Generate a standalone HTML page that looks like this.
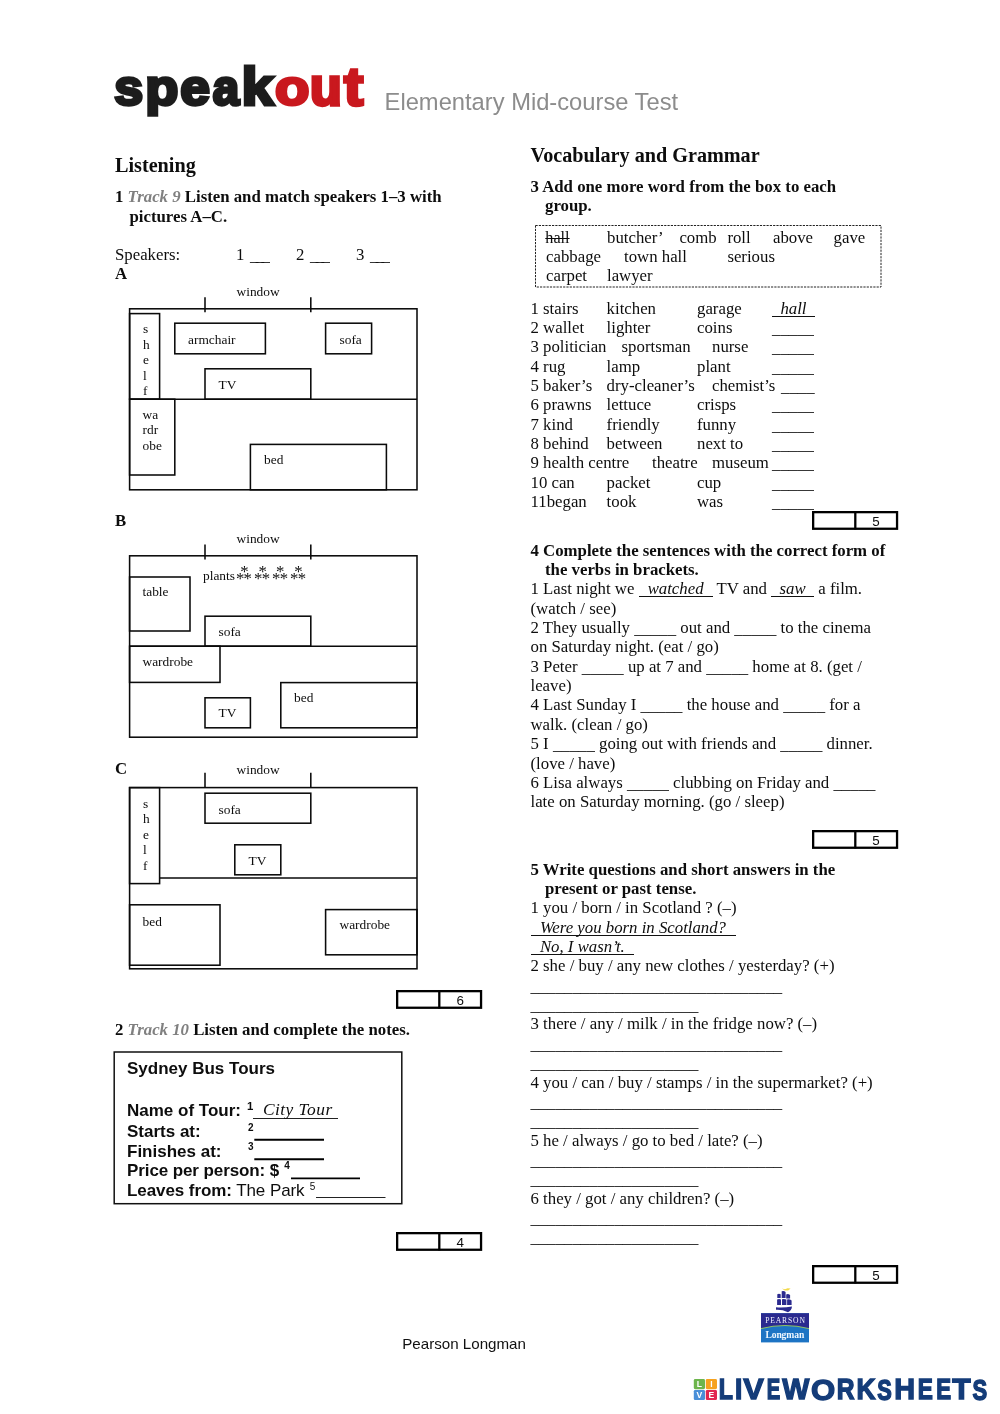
<!DOCTYPE html>
<html><head><meta charset="utf-8">
<style>
html,body{margin:0;padding:0;background:#fff;}
body{width:1000px;height:1414px;position:relative;overflow:hidden;font-family:"Liberation Serif",serif;color:#0d0d0d;}
#wrap{position:absolute;left:0;top:0;width:1000px;height:1414px;will-change:transform;}
.a{position:absolute;white-space:pre;}
.t{font-size:16.8px;line-height:19.33px;}
.b{font-weight:bold;}
.i{font-style:italic;}
.g{color:#808080;}
.h{font-size:20.2px;font-weight:bold;line-height:24px;}
.lab{position:absolute;font-size:13.4px;line-height:15.5px;white-space:pre;}
.sans{font-family:"Liberation Sans",sans-serif;}
.ul{position:relative;display:inline-block;}
.ul::after{content:"";position:absolute;left:0;right:0;top:17.1px;height:1px;background:#111;}
s{text-decoration-thickness:1px;}
.us{position:relative;top:1px;}
.ul .us{color:transparent;top:0;}
</style></head><body><div id="wrap">

<svg class="a" style="left:105px;top:55px" width="270" height="70" viewBox="105 55 270 70"><g font-family="Liberation Sans, sans-serif" font-weight="bold" font-size="100" stroke-width="3.4" stroke-linejoin="miter"><text fill="#1c1c1c" stroke="#1c1c1c" transform="translate(116.1 105.09) scale(0.5196 0.5073) translate(-3.5 0)" vector-effect="non-scaling-stroke">s</text><text fill="#1c1c1c" stroke="#1c1c1c" transform="translate(148.9 104.92) scale(0.5426 0.504) translate(-6.5 0)" vector-effect="non-scaling-stroke">p</text><text fill="#1c1c1c" stroke="#1c1c1c" transform="translate(182.2 105.09) scale(0.5327 0.5073) translate(-3.5 0)" vector-effect="non-scaling-stroke">e</text><text fill="#1c1c1c" stroke="#1c1c1c" transform="translate(213.9 105.09) scale(0.4741 0.5073) translate(-2.5 0)" vector-effect="non-scaling-stroke">a</text><text fill="#1c1c1c" stroke="#1c1c1c" transform="translate(245.2 104.63) scale(0.5798 0.5301) translate(-6.5 0)" vector-effect="non-scaling-stroke">k</text><text fill="#c9181e" stroke="#c9181e" transform="translate(276.9 105.09) scale(0.563 0.5073) translate(-3.5 0)" vector-effect="non-scaling-stroke">o</text><text fill="#c9181e" stroke="#c9181e" transform="translate(313.1 105.09) scale(0.5196 0.5093) translate(-6 0)" vector-effect="non-scaling-stroke">u</text><text fill="#c9181e" stroke="#c9181e" transform="translate(344.7 104.97) scale(0.5778 0.5338) translate(-1 0)" vector-effect="non-scaling-stroke">t</text></g></svg>
<div class="a sans" style="left:384.6px;top:88px;font-size:23.72px;line-height:28px;color:#8c8c8c;">Elementary Mid-course Test</div>

<div class="a h" style="left:115px;top:153px;">Listening</div>
<div class="a t b" style="left:115px;top:187px;">1 <span class="i g">Track 9</span> Listen and match speakers 1–3 with</div>
<div class="a t b" style="left:129.5px;top:206.5px;">pictures A–C.</div>
<div class="a t" style="left:115px;top:245px;">Speakers:</div>
<div class="a t" style="left:236px;top:245px;">1 <span class="us" style="letter-spacing:-2.6px;margin-left:1.3px">___</span></div>
<div class="a t" style="left:296px;top:245px;">2 <span class="us" style="letter-spacing:-2.6px;margin-left:1.3px">___</span></div>
<div class="a t" style="left:356px;top:245px;">3 <span class="us" style="letter-spacing:-2.6px;margin-left:1.3px">___</span></div>
<div class="a t b" style="left:115px;top:264px;">A</div>
<div class="a t b" style="left:115px;top:511px;">B</div>
<div class="a t b" style="left:115px;top:758.5px;">C</div>
<svg class="a" style="left:0;top:0" width="1000" height="1414" viewBox="0 0 1000 1414" fill="none" stroke="#0a0a0a" stroke-width="1.55" shape-rendering="geometricPrecision"><rect x="129.6" y="308.8" width="287.4" height="181.0"/><line x1="129.6" y1="399.2" x2="417.0" y2="399.2"/><rect x="129.6" y="313.6" width="30.0" height="85.6"/><rect x="174.8" y="323.2" width="90.6" height="30.6"/><rect x="325.6" y="323.2" width="46.0" height="30.6"/><rect x="205.0" y="368.8" width="105.8" height="30.4"/><rect x="129.6" y="399.2" width="45.2" height="75.8"/><rect x="250.4" y="444.4" width="136.0" height="45.4"/><line x1="205.0" y1="297.2" x2="205.0" y2="312.2"/><line x1="310.8" y1="297.2" x2="310.8" y2="312.2"/><rect x="129.6" y="555.8" width="287.4" height="181.4"/><line x1="129.6" y1="646.2" x2="417.0" y2="646.2"/><rect x="129.6" y="577.0" width="60.4" height="54.0"/><rect x="205.0" y="616.2" width="105.8" height="30.0"/><rect x="129.6" y="646.2" width="90.4" height="36.2"/><rect x="205.0" y="697.8" width="45.4" height="30.0"/><rect x="280.8" y="682.6" width="136.2" height="45.2"/><line x1="205.0" y1="544.6" x2="205.0" y2="559.4"/><line x1="310.8" y1="544.6" x2="310.8" y2="559.4"/><rect x="129.6" y="787.6" width="287.4" height="181.2"/><line x1="159.6" y1="878.0" x2="417.0" y2="878.0"/><rect x="129.6" y="787.6" width="30.0" height="96.0"/><rect x="205.0" y="793.2" width="105.8" height="30.0"/><rect x="234.8" y="844.8" width="46.0" height="30.0"/><rect x="129.6" y="904.8" width="90.4" height="60.4"/><rect x="325.6" y="909.6" width="91.4" height="45.2"/><line x1="205.0" y1="772.8" x2="205.0" y2="788.0"/><line x1="310.8" y1="772.8" x2="310.8" y2="788.0"/></svg><div class="lab" style="left:236.5px;top:284px;">window</div><div class="lab" style="left:143px;top:321px;">s
h
e
l
f</div><div class="lab" style="left:188px;top:332px;">armchair</div><div class="lab" style="left:339.5px;top:332px;">sofa</div><div class="lab" style="left:218.5px;top:377px;">TV</div><div class="lab" style="left:142.5px;top:406.5px;">wa
rdr
obe</div><div class="lab" style="left:264px;top:452px;">bed</div><div class="lab" style="left:236.5px;top:531px;">window</div><div class="lab" style="left:203px;top:568px;">plants</div><div class="lab" style="left:142.5px;top:584.2px;">table</div><div class="lab" style="left:218.5px;top:623.7px;">sofa</div><div class="lab" style="left:142.5px;top:654px;">wardrobe</div><div class="lab" style="left:218.5px;top:705.3px;">TV</div><div class="lab" style="left:294px;top:689.8px;">bed</div><div class="lab" style="left:236.5px;top:762px;">window</div><div class="lab" style="left:143px;top:795.5px;">s
h
e
l
f</div><div class="lab" style="left:218.5px;top:801.5px;">sofa</div><div class="lab" style="left:248.5px;top:852.5px;">TV</div><div class="lab" style="left:142.5px;top:913.5px;">bed</div><div class="lab" style="left:339.5px;top:917px;">wardrobe</div><svg class="a" style="left:393.8px;top:988.2px" width="92" height="24" viewBox="393.8 988.2 92 24" fill="none" stroke="#000" stroke-width="2.3"><rect x="396.95" y="991.35" width="83.9" height="16.6"/><line x1="439.1" y1="990.2" x2="439.1" y2="1008.7"/></svg><div class="a sans" style="left:440.2px;top:992.9000000000001px;width:40px;text-align:center;font-size:13.4px;line-height:15px;">6</div><svg class="a" style="left:393.8px;top:1230.2px" width="92" height="24" viewBox="393.8 1230.2 92 24" fill="none" stroke="#000" stroke-width="2.3"><rect x="396.95" y="1233.3500000000001" width="83.9" height="16.6"/><line x1="439.1" y1="1232.2" x2="439.1" y2="1250.7"/></svg><div class="a sans" style="left:440.2px;top:1234.9px;width:40px;text-align:center;font-size:13.4px;line-height:15px;">4</div><svg class="a" style="left:809.5px;top:508.8px" width="92" height="24" viewBox="809.5 508.8 92 24" fill="none" stroke="#000" stroke-width="2.3"><rect x="812.65" y="511.95" width="83.9" height="16.6"/><line x1="854.8" y1="510.8" x2="854.8" y2="529.3"/></svg><div class="a sans" style="left:855.9px;top:513.5px;width:40px;text-align:center;font-size:13.4px;line-height:15px;">5</div><svg class="a" style="left:809.5px;top:827.8px" width="92" height="24" viewBox="809.5 827.8 92 24" fill="none" stroke="#000" stroke-width="2.3"><rect x="812.65" y="830.9499999999999" width="83.9" height="16.6"/><line x1="854.8" y1="829.8" x2="854.8" y2="848.3"/></svg><div class="a sans" style="left:855.9px;top:832.5px;width:40px;text-align:center;font-size:13.4px;line-height:15px;">5</div><svg class="a" style="left:809.5px;top:1262.9px" width="92" height="24" viewBox="809.5 1262.9 92 24" fill="none" stroke="#000" stroke-width="2.3"><rect x="812.65" y="1266.0500000000002" width="83.9" height="16.6"/><line x1="854.8" y1="1264.9" x2="854.8" y2="1283.4"/></svg><div class="a sans" style="left:855.9px;top:1267.6000000000001px;width:40px;text-align:center;font-size:13.4px;line-height:15px;">5</div><div class="a" style="left:236px;top:569.1px;font-size:16.8px;line-height:19px;letter-spacing:-0.8px;">**</div>
<div class="a" style="left:254.1px;top:569.1px;font-size:16.8px;line-height:19px;letter-spacing:-0.8px;">**</div>
<div class="a" style="left:272.1px;top:569.1px;font-size:16.8px;line-height:19px;letter-spacing:-0.8px;">**</div>
<div class="a" style="left:290.1px;top:569.1px;font-size:16.8px;line-height:19px;letter-spacing:-0.8px;">**</div>
<div class="a" style="left:240.2px;top:561.6px;font-size:16.8px;line-height:19px;">*</div>
<div class="a" style="left:258.4px;top:561.6px;font-size:16.8px;line-height:19px;">*</div>
<div class="a" style="left:276.0px;top:561.6px;font-size:16.8px;line-height:19px;">*</div>
<div class="a" style="left:294.2px;top:561.6px;font-size:16.8px;line-height:19px;">*</div>
<div class="a h" style="left:530.5px;top:142.8px;">Vocabulary and Grammar</div>
<div class="a t b" style="left:530.5px;top:177.07px;">3 Add one more word from the box to each</div>
<div class="a t b" style="left:545px;top:196.37px;">group.</div>
<svg class="a" style="left:530px;top:220px" width="360" height="72" viewBox="530 220 360 72" fill="none" stroke="#222" stroke-width="1" stroke-dasharray="2.2 1.1"><rect x="535.5" y="225.5" width="345.5" height="61.5"/></svg>
<div class="a t" style="left:545.3px;top:228.77px;font-size:16.2px;"><s>hall</s></div>
<div class="a t" style="left:607px;top:228.07px;">butcher’</div>
<div class="a t" style="left:679.4px;top:228.07px;">comb</div>
<div class="a t" style="left:727.4px;top:228.07px;">roll</div>
<div class="a t" style="left:773px;top:228.07px;">above</div>
<div class="a t" style="left:833.6px;top:228.07px;">gave</div>
<div class="a t" style="left:546px;top:247.27px;">cabbage</div>
<div class="a t" style="left:624px;top:247.27px;">town hall</div>
<div class="a t" style="left:727.4px;top:247.27px;">serious</div>
<div class="a t" style="left:546px;top:266.47px;">carpet</div>
<div class="a t" style="left:607px;top:266.47px;">lawyer</div>
<div class="a t" style="left:530.5px;top:298.67px;">1 stairs</div>
<div class="a t" style="left:606.6px;top:298.67px;">kitchen</div>
<div class="a t" style="left:697px;top:298.67px;">garage</div>
<div class="a t" style="left:772px;top:298.67px;"><span class="ul"><span class="us">_</span><i>hall</i><span class="us">_</span></span></div>
<div class="a t" style="left:530.5px;top:318.02px;">2 wallet</div>
<div class="a t" style="left:606.6px;top:318.02px;">lighter</div>
<div class="a t" style="left:697px;top:318.02px;">coins</div>
<div class="a t" style="left:772px;top:318.02px;"><span class="us">_____</span></div>
<div class="a t" style="left:530.5px;top:337.37px;">3 politician</div>
<div class="a t" style="left:621.6px;top:337.37px;">sportsman</div>
<div class="a t" style="left:712px;top:337.37px;">nurse</div>
<div class="a t" style="left:772px;top:337.37px;"><span class="us">_____</span></div>
<div class="a t" style="left:530.5px;top:356.72px;">4 rug</div>
<div class="a t" style="left:606.6px;top:356.72px;">lamp</div>
<div class="a t" style="left:697px;top:356.72px;">plant</div>
<div class="a t" style="left:772px;top:356.72px;"><span class="us">_____</span></div>
<div class="a t" style="left:530.5px;top:376.07px;">5 baker’s</div>
<div class="a t" style="left:606.6px;top:376.07px;">dry-cleaner’s</div>
<div class="a t" style="left:712px;top:376.07px;">chemist’s</div>
<div class="a t" style="left:781px;top:376.07px;"><span class="us">____</span></div>
<div class="a t" style="left:530.5px;top:395.42px;">6 prawns</div>
<div class="a t" style="left:606.6px;top:395.42px;">lettuce</div>
<div class="a t" style="left:697px;top:395.42px;">crisps</div>
<div class="a t" style="left:772px;top:395.42px;"><span class="us">_____</span></div>
<div class="a t" style="left:530.5px;top:414.77px;">7 kind</div>
<div class="a t" style="left:606.6px;top:414.77px;">friendly</div>
<div class="a t" style="left:697px;top:414.77px;">funny</div>
<div class="a t" style="left:772px;top:414.77px;"><span class="us">_____</span></div>
<div class="a t" style="left:530.5px;top:434.12px;">8 behind</div>
<div class="a t" style="left:606.6px;top:434.12px;">between</div>
<div class="a t" style="left:697px;top:434.12px;">next to</div>
<div class="a t" style="left:772px;top:434.12px;"><span class="us">_____</span></div>
<div class="a t" style="left:530.5px;top:453.47px;">9 health centre</div>
<div class="a t" style="left:652px;top:453.47px;">theatre</div>
<div class="a t" style="left:712px;top:453.47px;">museum</div>
<div class="a t" style="left:772px;top:453.47px;"><span class="us">_____</span></div>
<div class="a t" style="left:530.5px;top:472.82px;">10 can</div>
<div class="a t" style="left:606.6px;top:472.82px;">packet</div>
<div class="a t" style="left:697px;top:472.82px;">cup</div>
<div class="a t" style="left:772px;top:472.82px;"><span class="us">_____</span></div>
<div class="a t" style="left:530.5px;top:492.17px;">11began</div>
<div class="a t" style="left:606.6px;top:492.17px;">took</div>
<div class="a t" style="left:697px;top:492.17px;">was</div>
<div class="a t" style="left:772px;top:492.17px;"><span class="us">_____</span></div>
<div class="a t b" style="left:530.5px;top:540.67px;">4 Complete the sentences with the correct form of</div>
<div class="a t b" style="left:545px;top:560.02px;">the verbs in brackets.</div>
<div class="a t " style="left:530.5px;top:579.37px;">1 Last night we <span class="ul"><span class="us">_</span><i style="margin:0 0.6px">watched</i><span class="us">_</span></span> TV and <span class="ul"><span class="us">_</span><i>saw</i><span class="us">_</span></span> a film.</div>
<div class="a t " style="left:530.5px;top:598.72px;">(watch / see)</div>
<div class="a t " style="left:530.5px;top:618.07px;">2 They usually <span class="us">_____</span> out and <span class="us">_____</span> to the cinema</div>
<div class="a t " style="left:530.5px;top:637.42px;">on Saturday night. (eat / go)</div>
<div class="a t " style="left:530.5px;top:656.77px;">3 Peter <span class="us">_____</span> up at 7 and <span class="us">_____</span> home at 8. (get /</div>
<div class="a t " style="left:530.5px;top:676.12px;">leave)</div>
<div class="a t " style="left:530.5px;top:695.47px;">4 Last Sunday I <span class="us">_____</span> the house and <span class="us">_____</span> for a</div>
<div class="a t " style="left:530.5px;top:714.82px;">walk. (clean / go)</div>
<div class="a t " style="left:530.5px;top:734.17px;">5 I <span class="us">_____</span> going out with friends and <span class="us">_____</span> dinner.</div>
<div class="a t " style="left:530.5px;top:753.52px;">(love / have)</div>
<div class="a t " style="left:530.5px;top:772.87px;">6 Lisa always <span class="us">_____</span> clubbing on Friday and <span class="us">_____</span></div>
<div class="a t " style="left:530.5px;top:792.22px;">late on Saturday morning. (go / sleep)</div>
<div class="a t b" style="left:530.5px;top:859.67px;">5 Write questions and short answers in the</div>
<div class="a t b" style="left:545px;top:879.02px;">present or past tense.</div>
<div class="a t " style="left:530.5px;top:898.37px;">1 you / born / in Scotland ? (–)</div>
<div class="a t " style="left:530.5px;top:917.72px;"><span class="ul"><span class="us">_</span><i style="margin:0 1.6px 0 1px">Were you born in Scotland?</i><span class="us">_</span></span></div>
<div class="a t " style="left:530.5px;top:937.07px;"><span class="ul"><span class="us">_</span><i style="margin:0 1.2px 0 1px">No, I wasn’t.</i><span class="us">_</span></span></div>
<div class="a t " style="left:530.5px;top:956.42px;">2 she / buy / any new clothes / yesterday? (+)</div>
<div class="a t " style="left:530.5px;top:975.77px;"><span class="us">______________________________</span></div>
<div class="a t " style="left:530.5px;top:995.12px;"><span class="us">____________________</span></div>
<div class="a t " style="left:530.5px;top:1014.47px;">3 there / any / milk / in the fridge now? (–)</div>
<div class="a t " style="left:530.5px;top:1033.82px;"><span class="us">______________________________</span></div>
<div class="a t " style="left:530.5px;top:1053.17px;"><span class="us">____________________</span></div>
<div class="a t " style="left:530.5px;top:1072.52px;">4 you / can / buy / stamps / in the supermarket? (+)</div>
<div class="a t " style="left:530.5px;top:1091.87px;"><span class="us">______________________________</span></div>
<div class="a t " style="left:530.5px;top:1111.22px;"><span class="us">____________________</span></div>
<div class="a t " style="left:530.5px;top:1130.57px;">5 he / always / go to bed / late? (–)</div>
<div class="a t " style="left:530.5px;top:1149.92px;"><span class="us">______________________________</span></div>
<div class="a t " style="left:530.5px;top:1169.27px;"><span class="us">____________________</span></div>
<div class="a t " style="left:530.5px;top:1188.62px;">6 they / got / any children? (–)</div>
<div class="a t " style="left:530.5px;top:1207.97px;"><span class="us">______________________________</span></div>
<div class="a t " style="left:530.5px;top:1227.32px;"><span class="us">____________________</span></div>
<div class="a t b" style="left:115px;top:1019.67px;">2 <span class="i g">Track 10</span> Listen and complete the notes.</div>
<svg class="a" style="left:110px;top:1048px" width="300" height="160" viewBox="110 1048 300 160" fill="none" stroke="#111" stroke-width="1.5"><rect x="114.2" y="1052" width="287.6" height="151.7"/><g stroke="#000" stroke-width="1.9"><line x1="254.3" y1="1139.8" x2="324" y2="1139.8"/><line x1="254.3" y1="1159.2" x2="324" y2="1159.2"/><line x1="291" y1="1178.4" x2="360" y2="1178.4"/></g><g stroke="#222" stroke-width="1"><line x1="253" y1="1118.5" x2="338" y2="1118.5"/><line x1="316" y1="1197.5" x2="385.5" y2="1197.5"/></g></svg>
<div class="a sans" style="left:127px;top:1058.9px;font-size:17px;line-height:19.33px;"><b>Sydney Bus Tours</b></div>
<div class="a sans" style="left:127px;top:1100.6px;font-size:17px;line-height:19.33px;"><b>Name of Tour:</b></div>
<div class="a sans" style="left:127px;top:1122.4px;font-size:17px;line-height:19.33px;"><b>Starts at:</b></div>
<div class="a sans" style="left:127px;top:1141.7px;font-size:17px;line-height:19.33px;"><b>Finishes at:</b></div>
<div class="a sans" style="left:127px;top:1161.0px;font-size:17px;line-height:19.33px;letter-spacing:-0.1px;"><b>Price per person: $</b></div>
<div class="a sans" style="left:127px;top:1180.6px;font-size:17px;line-height:19.33px;letter-spacing:-0.08px;"><b>Leaves from:</b> The Park</div>
<div class="a sans" style="left:247.0px;top:1100.35px;font-size:11.4px;line-height:12px;font-weight:bold;">1</div>
<div class="a sans" style="left:248.0px;top:1121.54px;font-size:10px;line-height:12px;font-weight:bold;">2</div>
<div class="a sans" style="left:248.0px;top:1141.04px;font-size:10px;line-height:12px;font-weight:bold;">3</div>
<div class="a sans" style="left:284.2px;top:1160.34px;font-size:10px;line-height:12px;font-weight:bold;">4</div>
<div class="a sans" style="left:309.8px;top:1180.74px;font-size:10px;line-height:12px;font-weight:normal;">5</div>
<div class="a i" style="left:263px;top:1099.2px;font-size:17.4px;line-height:20px;letter-spacing:0.45px;">City Tour</div>
<div class="a sans" style="left:402.2px;top:1335px;font-size:15.15px;line-height:17px;color:#111;">Pearson Longman</div>
<svg class="a" style="left:755px;top:1284px" width="60" height="62" viewBox="755 1284 60 62"><rect x="761" y="1313.2" width="48" height="29.2" fill="#1d74c4"/><path d="M761 1313.2H809V1328.6Q785 1322.4 761 1328.6Z" fill="#2b2a8f"/><path d="M761 1328.6Q785 1322.4 809 1328.6" fill="none" stroke="#9ccf5a" stroke-width="0.9"/><g fill="#2b2a8f"><path d="M777.3 1294.2q1.6-1 3.4 0v3.9h-3.4z"/><path d="M781.7 1291.3q2-1 3.9 0.6v6.2h-3.9z"/><path d="M786.2 1294.4q2-0.8 3.9 0.6v3.4h-3.9z"/><path d="M777.1 1299.4q2-0.8 3.9 0v5.5h-3.9z"/><path d="M782 1299.2q2.2-0.8 4.4 0.4v5.4h-4.4z"/><path d="M787.1 1299.5q2.4-0.6 4.5 1v4.6h-4.5z"/><path d="M776 1307.3Q784 1308 792 1306.4Q791.6 1310.6 788 1312.2Q782 1309.4 776 1309.8Z"/></g><path d="M781.8 1288.4l3.2 0.9 2.6-1.1 3 0.4-2.4 1.9h-3.4z" fill="#f2d94a"/></svg>
<div class="a" style="left:765.2px;top:1315.6px;font-size:7.6px;line-height:9px;letter-spacing:0.85px;color:#f4f4ff;">PEARSON</div>
<div class="a b" style="left:765.4px;top:1328.7px;font-size:9.6px;line-height:11px;letter-spacing:-0.1px;color:#f0f8ff;">Longman</div>
<svg class="a" style="left:690px;top:1375px" width="30" height="28" viewBox="690 1375 30 28"><rect x="693.8" y="1379" width="11.2" height="10.2" rx="1.4" fill="#6db54c"/><rect x="705.8" y="1379" width="11.2" height="10.2" rx="1.4" fill="#f6a21e"/><rect x="693.8" y="1389.9" width="11.2" height="10.2" rx="1.4" fill="#4a8fd8"/><rect x="705.8" y="1389.9" width="11.2" height="10.2" rx="1.4" fill="#e2264f"/><g fill="#fff" font-family="Liberation Sans, sans-serif" font-weight="bold" font-size="8.6" text-anchor="middle"><text x="699.4" y="1387.3">L</text><text x="711.4" y="1387.3">I</text><text x="699.4" y="1398.2">V</text><text x="711.4" y="1398.2">E</text></g></svg>
<svg class="a" style="left:715px;top:1372px" width="280" height="34" viewBox="715 1372 280 34"><g font-family="Liberation Sans, sans-serif" font-weight="bold" font-size="100" fill="#143c79" stroke="#143c79" stroke-width="1.3" vector-effect="non-scaling-stroke"><text transform="translate(720.05 1399.35) scale(0.2321 0.2907) translate(-6 0)" vector-effect="non-scaling-stroke">L</text><text transform="translate(736.55 1399.35) scale(0.2625 0.2907) translate(-6 0)" vector-effect="non-scaling-stroke">I</text><text transform="translate(743.25 1399.35) scale(0.309 0.2907) translate(0 0)" vector-effect="non-scaling-stroke">V</text><text transform="translate(768.05 1399.35) scale(0.2018 0.2907) translate(-6 0)" vector-effect="non-scaling-stroke">E</text><text transform="translate(782.25 1399.35) scale(0.2874 0.2907) translate(0 0)" vector-effect="non-scaling-stroke">W</text><text transform="translate(812.15 1399.6) scale(0.3114 0.2907) translate(-4 0)" vector-effect="non-scaling-stroke">O</text><text transform="translate(838.15 1399.35) scale(0.2462 0.2907) translate(-6 0)" vector-effect="non-scaling-stroke">R</text><text transform="translate(858.15 1399.35) scale(0.2636 0.2907) translate(-6 0)" vector-effect="non-scaling-stroke">K</text><text transform="translate(877.65 1399.6) scale(0.218 0.2907) translate(-2 0)" vector-effect="non-scaling-stroke">S</text><text transform="translate(896.05 1399.35) scale(0.2883 0.2907) translate(-6 0)" vector-effect="non-scaling-stroke">H</text><text transform="translate(919.05 1399.35) scale(0.2263 0.2907) translate(-6 0)" vector-effect="non-scaling-stroke">E</text><text transform="translate(937.65 1399.35) scale(0.2228 0.2907) translate(-6 0)" vector-effect="non-scaling-stroke">E</text><text transform="translate(952.65 1399.35) scale(0.3017 0.2907) translate(-1 0)" vector-effect="non-scaling-stroke">T</text><text transform="translate(973.05 1399.6) scale(0.2197 0.2907) translate(-2 0)" vector-effect="non-scaling-stroke">S</text></g></svg>

</div></body></html>
